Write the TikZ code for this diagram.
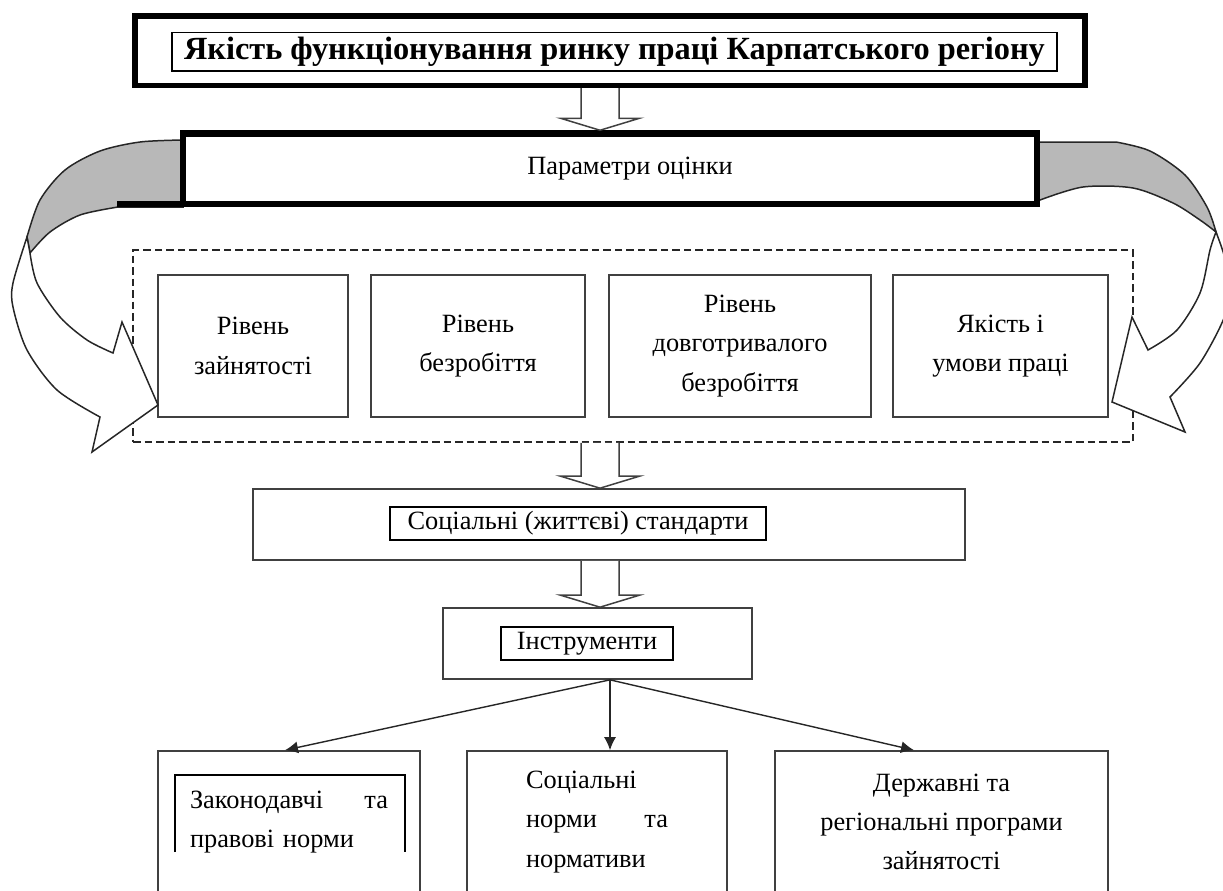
\documentclass[tikz,border=0pt]{standalone}
\usepackage{fontspec}
\setmainfont{Liberation Serif}
\usetikzlibrary{calc,fit,arrows.meta}

\tikzstyle{heavybox} = [rectangle, draw=black, line width=3.1pt, fill=white]
\tikzstyle{frame} = [rectangle, draw=black, line width=1.1pt, inner sep=0pt]
\tikzstyle{block} = [rectangle, draw=black!75, line width=0.95pt, fill=white, align=center]
\tikzstyle{dashbox} = [rectangle, draw=black!85, line width=1.15pt, dash pattern=on 0.15cm off 0.08cm, inner sep=0.48cm]
\tikzstyle{hollow} = [draw=black!75, line width=0.85pt, fill=white]
\tikzstyle{ribbon} = [draw=black!85, line width=0.85pt]
\tikzstyle{link} = [-{Latex[length=0.26cm,width=0.24cm]}, draw=black!85, line width=0.8pt]

\begin{document}
\begin{tikzpicture}[node distance=2cm, font=\fontsize{15pt}{22.4pt}\selectfont]
        \clip (0,0) rectangle (24.46,-17.8);

        % top
        \node (title) [heavybox, minimum width=19cm, minimum height=1.39cm] at (12.2,-1.015) {};
        \node (titletext) [frame, minimum width=17.7cm, minimum height=0.77cm, xshift=0.09cm, yshift=-0.02cm, font=\fontsize{18.4pt}{22pt}\selectfont\bfseries] at (title) {Якість функціонування ринку праці Карпатського регіону};

        % parameters
        \node (b1) [block, minimum width=3.8cm, minimum height=2.84cm, below of=title, xshift=-7.14cm, yshift=-3.905cm] {Рівень\\зайнятості};
        \node (b2) [block, minimum width=4.28cm, minimum height=2.84cm, right of=b1, xshift=2.5cm] {Рівень\\безробіття};
        \node (b3) [block, minimum width=5.24cm, minimum height=2.84cm, right of=b2, xshift=3.24cm] {Рівень\\довготривалого\\безробіття};
        \node (b4) [block, minimum width=4.3cm, minimum height=2.84cm, right of=b3, xshift=3.21cm] {Якість і\\умови праці};
        \node (group) [dashbox, fit=(b1)(b4)] {};

        % curved arrows
        \draw [ribbon, fill=black!28] plot[smooth] coordinates {(3.66,-2.8) (2.8,-2.84) (2.0,-3.02) (1.3,-3.4) (0.8,-4.0) (0.54,-4.74)} -- plot[smooth] coordinates {(0.6,-5.06) (1.0,-4.64) (1.6,-4.3) (2.36,-4.14)} -- (3.66,-4.14) -- cycle;
        \draw [ribbon, fill=white] plot[smooth] coordinates {(0.54,-4.74) (0.26,-5.66) (0.26,-6.14) (0.54,-7.0) (1.14,-7.8) (2.0,-8.34)} -- (1.84,-9.04) -- (3.16,-8.1) -- (2.44,-6.44) -- plot[smooth] coordinates {(2.26,-7.06) (1.74,-6.8) (1.2,-6.34) (0.74,-5.66) (0.6,-5.06)} -- cycle;
        \draw [ribbon, fill=black!28] plot[smooth] coordinates {(22.32,-2.84) (23.0,-3.02) (23.7,-3.5) (24.14,-4.14) (24.32,-4.64)} -- plot[smooth] coordinates {(24.32,-4.64) (24.0,-4.4) (23.46,-4.06) (22.66,-3.76) (21.66,-3.74) (20.8,-4.0)} -- (20.74,-4.0) -- (20.74,-2.84) -- cycle;
        \draw [ribbon, fill=white] plot[smooth] coordinates {(24.32,-4.64) (24.48,-5.1) (24.6,-5.7) (24.48,-6.36) (24.0,-7.26) (23.4,-7.94)} -- (23.7,-8.64) -- (22.24,-8.04) -- (22.64,-6.34) -- plot[smooth] coordinates {(22.96,-7.0) (23.54,-6.6) (24.0,-5.86) (24.2,-5.0) (24.32,-4.64)} -- cycle;

        \node (param) [heavybox, line width=3.7pt, minimum width=17.08cm, minimum height=1.41cm, below of=title, yshift=-0.36cm] {};
        \node (paramtext) [xshift=0.4cm] at (param) {Параметри оцінки};
        \draw [line width=3.7pt] ([yshift=0.065cm]param.south west) -- ++(-1.26,0);

        % standards and instruments
        \node (social) [block, minimum width=14.24cm, minimum height=1.42cm, below of=param, xshift=-0.02cm, yshift=-5.115cm] {};
        \node (socialtext) [frame, minimum width=7.52cm, minimum height=0.66cm, xshift=-0.62cm, yshift=0.02cm] at (social) {Соціальні (життєві) стандарти};
        \node (tools) [block, minimum width=6.18cm, minimum height=1.42cm, below of=social, xshift=-0.23cm, yshift=-0.38cm] {};
        \node (toolstext) [frame, minimum width=3.44cm, minimum height=0.66cm, xshift=-0.21cm] at (tools) {Інструменти};

        \coordinate (axis) at (12,0);
        \foreach \from/\to in {title/param, group/social, social/tools}
            \draw [hollow] ($(\from.south -| axis)+(-0.38,0)$) -- ($(\to.north -| axis)+(-0.38,0.24)$) -- ++(-0.41,0) -- (\to.north -| axis) -- ($(\to.north -| axis)+(0.79,0.24)$) -- ++(-0.41,0) -- ($(\from.south -| axis)+(0.38,0)$);

        % bottom row
        \node (laws) [block, minimum width=5.24cm, minimum height=2.84cm, text width=3.96cm, align=left, below of=tools, xshift=-6.17cm, yshift=-1.57cm] {Законодавчі \hfill та\\правові норми};
        \node (norms) [block, minimum width=5.2cm, minimum height=2.84cm, text width=2.84cm, align=left, right of=laws, xshift=4.16cm] {Соціальні\\норми \hfill та\\нормативи};
        \node (programs) [block, minimum width=6.66cm, minimum height=2.84cm, right of=norms, xshift=4.89cm] {Державні та\\регіональні програми\\зайнятості};
        \draw [line width=1.1pt] ([shift={(0.36,-2.04)}]laws.north west) |- ([shift={(-0.32,-0.5)}]laws.north east) -- ([shift={(-0.32,-2.04)}]laws.north east);

        \coordinate (fork) at ([xshift=0.25cm]tools.south);
        \draw [link] (fork) -- ([xshift=-0.08cm]laws.north);
        \draw [link] (fork) -- (fork |- norms.north);
        \draw [link] (fork) -- ([xshift=-0.55cm]programs.north);
    \end{tikzpicture}
\end{document}
